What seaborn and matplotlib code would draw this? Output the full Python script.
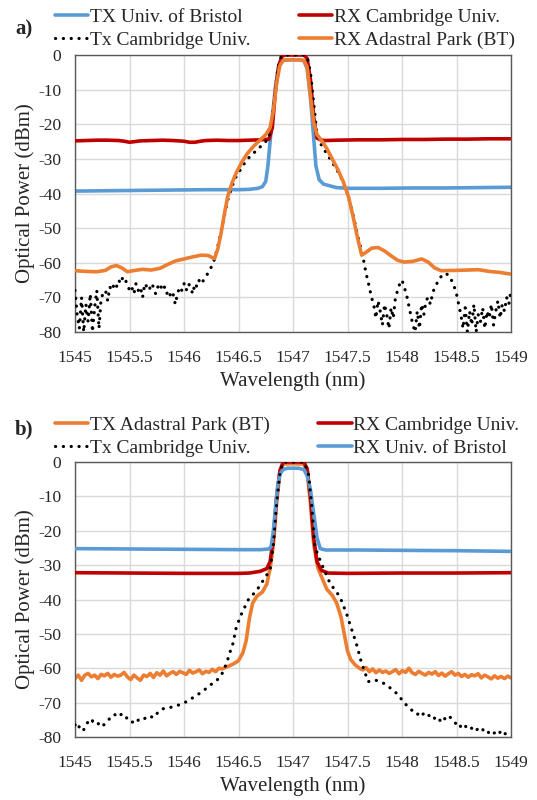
import numpy as np
import pandas as pd
import matplotlib
matplotlib.use("Agg")
import matplotlib.pyplot as plt
import seaborn as sns

# -------------------------------
# colours
# -------------------------------
BLUE = "#5b9bd5"
RED = "#c00000"
ORANGE = "#ed7d31"
BLACK = "#000000"

# -------------------------------
# panel a) data (wavelength nm / power dBm)
# -------------------------------
a_tx_bristol_wl = [1545.0, 1545.3, 1545.6, 1545.9, 1546.2, 1546.5, 1546.6, 1546.68, 1546.72, 1546.75,
                   1546.77, 1546.79, 1546.81, 1546.84, 1546.87, 1546.9, 1546.95, 1547.05, 1547.1, 1547.13,
                   1547.16, 1547.19, 1547.21, 1547.24, 1547.28, 1547.34, 1547.4, 1547.5, 1547.8, 1548.1,
                   1548.4, 1548.7, 1549.0]
a_tx_bristol_db = [-39.3, -39.2, -39.1, -39.0, -38.9, -38.9, -38.8, -38.5, -38.0, -36.5,
                   -32.0, -25.0, -18.0, -9.0, -3.0, -1.6, -1.4, -1.4, -1.6, -4.0,
                   -12.0, -24.0, -32.0, -36.0, -37.3, -37.8, -38.3, -38.5, -38.5, -38.4,
                   -38.4, -38.3, -38.2]

a_rx_cam_wl = [1545.0, 1545.1, 1545.2, 1545.3, 1545.4, 1545.45, 1545.5, 1545.55, 1545.6, 1545.7,
               1545.8, 1545.9, 1546.0, 1546.05, 1546.1, 1546.15, 1546.2, 1546.3, 1546.4, 1546.5,
               1546.6, 1546.7, 1546.78, 1546.81, 1546.84, 1546.87, 1546.9, 1546.93, 1547.0, 1547.1,
               1547.13, 1547.16, 1547.19, 1547.22, 1547.26, 1547.3, 1547.4, 1547.6, 1547.8, 1548.0,
               1548.2, 1548.4, 1548.6, 1548.8, 1549.0]
a_rx_cam_db = [-24.8, -24.7, -24.6, -24.6, -24.7, -24.9, -25.2, -25.0, -24.8, -24.7,
               -24.6, -24.7, -24.9, -25.2, -25.2, -24.9, -24.7, -24.6, -24.7, -24.7,
               -24.6, -24.5, -24.3, -21.0, -10.0, -3.0, -0.3, 0.0, 0.0, 0.0,
               -1.0, -7.0, -18.0, -24.0, -24.6, -24.7, -24.6, -24.5, -24.5, -24.4,
               -24.4, -24.3, -24.3, -24.2, -24.2]

# noisy left floor, 0.02 nm sampling
a_tx_cam_left_db = [-68, -75, -79, -70, -80, -72, -77, -69, -80, -73, -68, -79, -70,
                    -69, -68, -71, -67, -68, -66, -67, -65, -66, -64, -65,
                    -66, -68, -67, -69, -66, -68, -67, -70, -66, -67, -68, -66, -67, -69, -67, -66,
                    -68, -67, -69, -68, -70, -69,
                    -72, -69, -67, -68, -66, -68, -66, -67, -69, -66, -67, -65, -66, -65, -64]
a_tx_cam_mid_wl = [1546.24, 1546.28, 1546.32, 1546.36, 1546.4, 1546.44, 1546.48, 1546.52, 1546.56, 1546.6,
                   1546.65, 1546.7, 1546.75, 1546.78, 1546.8, 1546.83, 1546.86, 1546.89, 1546.92, 1547.0,
                   1547.1, 1547.13, 1547.16, 1547.19, 1547.22, 1547.26, 1547.3, 1547.35, 1547.4, 1547.45,
                   1547.5, 1547.55, 1547.6, 1547.64, 1547.67, 1547.7, 1547.72]
a_tx_cam_mid_db = [-62, -59, -54, -48, -42, -38, -35, -33, -31, -29.5,
                   -28, -26.5, -25, -24, -20, -12, -4, -0.5, 0, 0,
                   0, -0.5, -5, -14, -23, -26, -28, -30.5, -33, -36,
                   -40, -46, -53, -58, -63, -67, -70]
# noisy right floor, 0.02 nm sampling
a_tx_cam_right_db = [-72, -76, -71, -74, -78, -72, -75, -79, -73, -76, -70, -68, -66, -65, -67, -69,
                     -72, -75, -78, -80, -74, -79, -72, -75, -71, -70, -72, -69, -67, -66, -64.5, -64,
                     -63.5, -63, -63.5, -64, -65.5, -67, -69, -72, -75, -79, -73, -80, -74, -78, -72,
                     -80, -75, -77, -73, -79, -74, -76, -72, -78, -74, -71, -76, -72, -74, -70, -72, -68]

a_rx_bt_wl = [1545.0, 1545.1, 1545.2, 1545.28, 1545.33, 1545.38, 1545.43, 1545.48, 1545.55, 1545.62,
              1545.7, 1545.78, 1545.85, 1545.92, 1546.0, 1546.08, 1546.16, 1546.22, 1546.28, 1546.31,
              1546.34, 1546.37, 1546.4, 1546.44, 1546.48, 1546.53, 1546.58, 1546.64, 1546.7, 1546.75,
              1546.79, 1546.82, 1546.85, 1546.88, 1546.91, 1546.95, 1547.05, 1547.1, 1547.13, 1547.16,
              1547.19, 1547.22, 1547.27, 1547.31, 1547.36, 1547.41, 1547.46, 1547.51, 1547.55, 1547.59,
              1547.63, 1547.67, 1547.72, 1547.78, 1547.84, 1547.9, 1547.96, 1548.02, 1548.1, 1548.18,
              1548.24, 1548.3, 1548.36, 1548.5, 1548.6, 1548.7, 1548.8, 1548.9, 1549.0]
a_rx_bt_db = [-62.3, -62.5, -62.6, -62.2, -61.2, -60.8, -61.5, -62.6, -62.2, -61.9,
              -62.1, -61.6, -60.5, -59.5, -58.9, -58.3, -57.8, -57.9, -58.8, -56.0,
              -51.5, -46.0, -41.0, -37.0, -34.0, -31.0, -28.5, -26.3, -24.5, -23.0,
              -21.0, -16.0, -8.0, -3.0, -1.6, -1.4, -1.4, -1.6, -3.5, -12.0,
              -19.5, -23.0, -25.0, -27.0, -30.0, -33.0, -36.5, -41.0, -46.5, -52.5,
              -57.8, -57.0, -55.8, -55.6, -56.6, -58.0, -59.3, -59.8, -59.6, -58.9,
              -59.8, -61.5, -62.3, -62.2, -62.1, -62.0, -62.5, -62.8, -63.3]

# -------------------------------
# panel b) data
# -------------------------------
b_rx_bristol_wl = [1545.0, 1545.5, 1546.0, 1546.5, 1546.7, 1546.78, 1546.8, 1546.82, 1546.84, 1546.86,
                   1546.88, 1546.91, 1546.95, 1547.05, 1547.1, 1547.13, 1547.16, 1547.19, 1547.22, 1547.25,
                   1547.3, 1547.6, 1548.0, 1548.5, 1549.0]
b_rx_bristol_db = [-25.2, -25.3, -25.4, -25.5, -25.5, -25.3, -24.5, -20.0, -13.0, -7.0,
                   -3.5, -2.2, -1.8, -1.8, -2.2, -4.0, -8.0, -15.0, -22.0, -25.2,
                   -25.6, -25.6, -25.7, -25.8, -26.0]

b_rx_cam_wl = [1545.0, 1545.5, 1546.0, 1546.5, 1546.6, 1546.7, 1546.76, 1546.79, 1546.82, 1546.85,
               1546.88, 1546.91, 1547.0, 1547.1, 1547.13, 1547.16, 1547.19, 1547.22, 1547.26, 1547.32,
               1547.5, 1548.0, 1548.5, 1549.0]
b_rx_cam_db = [-32.2, -32.3, -32.4, -32.4, -32.3, -31.8, -31.0, -29.0, -22.0, -10.0,
               -2.5, 0.0, 0.0, 0.0, -2.0, -10.0, -22.0, -29.0, -31.5, -32.3,
               -32.4, -32.3, -32.3, -32.2]

# noisy floors, 0.03 nm sampling
b_tx_bt_left_db = [-63, -62, -63.5, -62, -61.5, -62.5, -62, -63, -61.8, -62.2, -61.5, -62.6,
                   -61.8, -62.3, -62, -61.2, -62.5, -63.3, -62, -62.8, -63.5, -62, -62.4, -61.5,
                   -62.7, -61.3, -62, -60.8, -62.2, -61.5, -61, -61.8, -60.9, -61.3, -61.8, -60.6,
                   -61.4, -61, -60.5, -61.6, -60.9, -61.2, -60.3, -61, -60, -60.2]
b_tx_bt_mid_wl = [1546.4, 1546.45, 1546.5, 1546.54, 1546.57, 1546.6, 1546.63, 1546.67, 1546.72, 1546.76,
                  1546.79, 1546.82, 1546.85, 1546.88, 1546.91, 1547.0, 1547.1, 1547.13, 1547.16, 1547.19,
                  1547.23, 1547.27, 1547.31, 1547.36, 1547.4, 1547.44, 1547.47, 1547.5, 1547.53, 1547.57,
                  1547.61]
b_tx_bt_mid_db = [-59.5, -58.8, -57.8, -55.5, -52.0, -45.5, -41.0, -39.0, -37.8, -35.5,
                  -31.0, -24.0, -12.0, -3.0, -0.6, -0.5, -0.6, -3.0, -12.0, -24.0,
                  -31.0, -34.0, -37.0, -38.8, -41.0, -45.0, -50.0, -55.0, -57.5, -59.0,
                  -60.0]
b_tx_bt_right_db = [-60.5, -59.8, -61, -60.2, -61.3, -60.5, -61.2, -60.8, -61.5, -61, -60.4, -61.6,
                    -60.7, -61.2, -60, -61.3, -61.8, -60.9, -61.5, -62, -61.2, -61.7, -61, -62.1,
                    -61.4, -62.3, -61.6, -61, -62, -61.5, -62.4, -61.8, -62.6, -61.9, -62.2, -61.6,
                    -62.8, -62, -62.5, -63.1, -62.2, -62.9, -62.4, -63, -62.3, -62.8]

# 0.02 nm sampling on the noisy parts
b_tx_cam_left_db = [-76.5, -75.8, -77.2, -76.8, -77.9, -76.5, -75.6, -76.2, -75.3, -75.8, -75.5,
                    -76.4, -75.9, -76.6, -76, -75.2, -74.6, -74, -73.4, -73.8, -73.1, -73.5,
                    -73.2, -74.1, -74.6, -75.3, -75.8, -75.4, -75.9, -75.1, -74.8, -74.3, -74.6,
                    -74.2, -74.5, -74.1, -74.4, -73.6, -72.9, -72.4, -71.8]
b_tx_cam_mid_wl = [1545.84, 1545.92, 1545.99, 1546.06, 1546.12, 1546.18, 1546.24, 1546.3, 1546.35, 1546.39,
                   1546.42, 1546.45, 1546.48, 1546.53, 1546.59, 1546.67, 1546.74, 1546.79, 1546.82, 1546.85,
                   1546.88, 1546.91, 1547.0, 1547.1, 1547.14, 1547.17, 1547.2, 1547.26, 1547.34, 1547.43,
                   1547.49, 1547.54, 1547.58, 1547.63, 1547.69, 1547.75, 1547.81, 1547.86, 1547.95, 1548.04,
                   1548.1]
b_tx_cam_mid_db = [-71.7, -71.0, -70.3, -69.0, -67.8, -66.5, -64.9, -63.6, -61.5, -58.6,
                   -55.5, -52.7, -48.0, -44.0, -40.1, -37.2, -33.8, -31.4, -24.0, -12.0,
                   -3.0, 0.0, 0.0, 0.0, -3.0, -12.0, -24.6, -29.5, -35.3, -39.2,
                   -44.0, -48.9, -52.7, -58.6, -63.9, -63.4, -64.0, -64.9, -67.3, -70.7,
                   -72.5]
b_tx_cam_right_db = [-73, -73.5, -72.8, -73.6, -73.2, -73.9, -73.5, -74.2, -73.8, -74.6, -75.2, -74.7,
                     -75.8, -75.1, -74.4, -74.9, -74.2, -74.8, -75.6, -76.3, -75.9, -77.1, -77.6,
                     -76.8, -77.4, -76.9, -77.5, -77.1, -78, -77.6, -78.3, -77.8, -78.6, -78.2,
                     -78.9, -78.4, -79, -78.5, -79.2, -78.6, -79.4, -78.8, -79.5, -78.9, -79.3]


def stitch(parts):
    # parts: list of (wl list, db list); noisy segments given as (start, end, db list)
    wl, db = [], []
    for p in parts:
        if len(p) == 3:
            wl += list(np.linspace(p[0], p[1], len(p[2])))
            db += list(p[2])
        else:
            wl += list(p[0])
            db += list(p[1])
    return pd.DataFrame({"wl": wl, "db": db})


a_tx_cam = stitch([(1545.0, 1546.2, a_tx_cam_left_db),
                   (a_tx_cam_mid_wl, a_tx_cam_mid_db),
                   (1547.74, 1549.0, a_tx_cam_right_db)])
b_tx_bt = stitch([(1545.0, 1546.35, b_tx_bt_left_db),
                  (b_tx_bt_mid_wl, b_tx_bt_mid_db),
                  (1547.64, 1549.0, b_tx_bt_right_db)])
b_tx_cam = stitch([(1545.0, 1545.8, b_tx_cam_left_db),
                   (b_tx_cam_mid_wl, b_tx_cam_mid_db),
                   (1548.12, 1549.0, b_tx_cam_right_db)])

# -------------------------------
# style
# -------------------------------
sns.set_style("white")
plt.rcParams["font.family"] = ["Liberation Serif", "DejaVu Serif"]
plt.rcParams["axes.unicode_minus"] = False

fig = plt.figure(figsize=(5.37, 8), dpi=100)
ax_a = fig.add_axes([75 / 537, 1 - 332 / 800, 436 / 537, 277 / 800])
ax_b = fig.add_axes([75 / 537, 1 - 737 / 800, 436 / 537, 275 / 800])

LW = 2.6
dot_kw = dict(color=BLACK, lw=2.3, linestyle=(0, (0.05, 2.4)), dash_capstyle="round")


def line(ax, wl, db, color, label, z):
    sns.lineplot(x=wl, y=db, ax=ax, color=color, lw=LW, label=label,
                 sort=False, estimator=None, zorder=z)


# panel a
line(ax_a, a_tx_bristol_wl, a_tx_bristol_db, BLUE, "TX Univ. of Bristol", 2)
line(ax_a, a_rx_cam_wl, a_rx_cam_db, RED, "RX Cambridge Univ.", 3)
sns.lineplot(data=a_tx_cam, x="wl", y="db", ax=ax_a, label="Tx Cambridge Univ.",
             sort=False, estimator=None, zorder=4, **dot_kw)
line(ax_a, a_rx_bt_wl, a_rx_bt_db, ORANGE, "RX Adastral Park (BT)", 5)

# panel b
line(ax_b, b_tx_bt["wl"], b_tx_bt["db"], ORANGE, "TX Adastral Park (BT)", 2)
line(ax_b, b_rx_cam_wl, b_rx_cam_db, RED, "RX Cambridge Univ.", 3)
line(ax_b, b_rx_bristol_wl, b_rx_bristol_db, BLUE, "RX Univ. of Bristol", 4)
sns.lineplot(data=b_tx_cam, x="wl", y="db", ax=ax_b, label="Tx Cambridge Univ.",
             sort=False, estimator=None, zorder=5, **dot_kw)

orders = {
    ax_a: ["TX Univ. of Bristol", "Tx Cambridge Univ.", "RX Cambridge Univ.", "RX Adastral Park (BT)"],
    ax_b: ["TX Adastral Park (BT)", "Tx Cambridge Univ.", "RX Cambridge Univ.", "RX Univ. of Bristol"],
}
legend_top = {ax_a: 1 - 8 / 800, ax_b: 1 - 416 / 800}
tag_y = {ax_a: 1 - 29 / 800, ax_b: 1 - 429 / 800}
tags = {ax_a: "a)", ax_b: "b)"}

for ax in (ax_a, ax_b):
    ax.set_xlim(1545, 1549)
    ax.set_ylim(-80, 0)
    ax.set_xticks([1545, 1545.5, 1546, 1546.5, 1547, 1547.5, 1548, 1548.5, 1549])
    ax.set_xticklabels(["1545", "1545.5", "1546", "1546.5", "1547", "1547.5", "1548", "1548.5", "1549"])
    ax.set_yticks(range(-80, 1, 10))
    ax.tick_params(length=0, labelsize=12.5)
    ax.tick_params(axis="x", pad=13)
    ax.tick_params(axis="y", pad=10)
    ax.grid(True, color="#d9d9d9", lw=1)
    ax.set_axisbelow(True)
    for s in ax.spines.values():
        s.set_color("#595959")
        s.set_linewidth(1)
    ax.set_xlabel("Wavelength (nm)", fontsize=15, labelpad=4)
    ax.set_ylabel("Optical Power (dBm)", fontsize=15, labelpad=2)

    handles, labels = ax.get_legend_handles_labels()
    lookup = dict(zip(labels, handles))
    ax.legend([lookup[l] for l in orders[ax]], orders[ax], ncol=2, frameon=False,
              loc="upper left", bbox_to_anchor=(55 / 537, legend_top[ax]),
              bbox_transform=fig.transFigure, fontsize=14, borderpad=0, borderaxespad=0,
              handlelength=1.7, handletextpad=0.1, labelspacing=0.3, columnspacing=2.5)
    fig.text(15 / 537, tag_y[ax], tags[ax], fontsize=15, fontweight="bold", va="center", ha="left")

fig.savefig("out.png", dpi=100)
